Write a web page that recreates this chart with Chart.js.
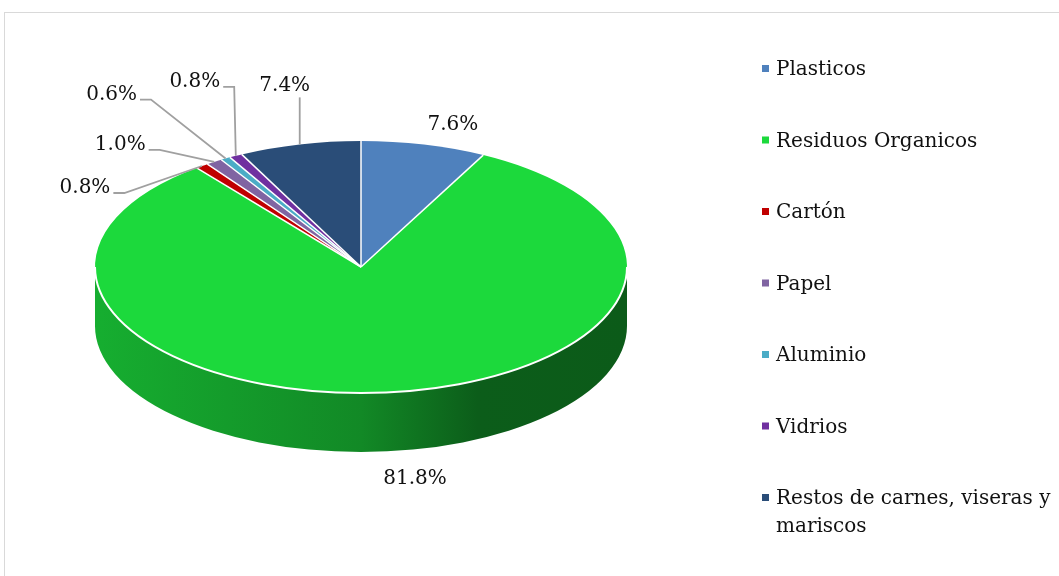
<!DOCTYPE html>
<html lang="es">
<head>
  <meta charset="UTF-8" />
  <title>Composición de residuos</title>
  <script src="https://cdn.jsdelivr.net/npm/chart.js"></script>
  <style>
    html, body { margin: 0; padding: 0; background: #fff; }
    #wrap { width: 1059px; height: 576px; }
  </style>
</head>
<body>
  <div id="wrap"><canvas id="pie" width="1059" height="576"></canvas></div>

  <script>
    // Datos
    const categories = ["Plasticos", "Residuos Organicos", "Cartón", "Papel", "Aluminio", "Vidrios", "Restos de carnes, viseras y mariscos"];
    const shares = [7.6, 81.8, 0.8, 1.0, 0.6, 0.8, 7.4];
    const sliceColors = ["#4f81bd", "#1cd93c", "#c00000", "#8064a2", "#4bacc6", "#7030a0", "#2a4d78"];

    // Geometria del pastel 3D
    const PIE = { cx: 361, cy: 267, rx: 266, ry: 126, depth: 59 };
    const FONT = "DejaVu Serif";

    // desplazamiento de cada etiqueta respecto al borde de su sector
    const labelOffsets = [[29, -20], [29, 86], [-117, 22], [-94, -17], [-114, -64], [-41, -74], [-15, -59]];
    const withLeader = [false, false, true, true, true, true, true];

    function shade(hex, f) {
      const n = parseInt(hex.slice(1), 16);
      const r = Math.round(((n >> 16) & 255) * f);
      const g = Math.round(((n >> 8) & 255) * f);
      const b = Math.round((n & 255) * f);
      return `rgb(${r},${g},${b})`;
    }

    function rimPoint(a) {
      return [PIE.cx + PIE.rx * Math.cos(a), PIE.cy + PIE.ry * Math.sin(a)];
    }

    const pie3d = {
      id: "pie3d",
      beforeDraw(chart) {
        const ctx = chart.ctx;
        ctx.save();
        ctx.strokeStyle = "#d9d9d9";
        ctx.lineWidth = 1;
        ctx.strokeRect(4.5, 12.5, 1100, 600);
        ctx.restore();
      },
      beforeDatasetsDraw(chart) {
        const ctx = chart.ctx;
        const arcs = chart.getDatasetMeta(0).data;
        // paredes laterales (solo la mitad frontal)
        arcs.forEach((arc, i) => {
          const a0 = Math.max(arc.startAngle, 0);
          const a1 = Math.min(arc.endAngle, Math.PI);
          if (a1 <= a0) return;
          const g = ctx.createLinearGradient(PIE.cx - PIE.rx, 0, PIE.cx + PIE.rx, 0);
          g.addColorStop(0, shade(sliceColors[i], 0.8));
          g.addColorStop(0.5, shade(sliceColors[i], 0.63));
          g.addColorStop(0.72, shade(sliceColors[i], 0.43));
          g.addColorStop(1, shade(sliceColors[i], 0.42));
          ctx.save();
          ctx.beginPath();
          ctx.ellipse(PIE.cx, PIE.cy, PIE.rx, PIE.ry, 0, a0, a1);
          const [ex, ey] = rimPoint(a1);
          ctx.lineTo(ex, ey + PIE.depth);
          ctx.ellipse(PIE.cx, PIE.cy + PIE.depth, PIE.rx, PIE.ry, 0, a1, a0, true);
          ctx.closePath();
          ctx.fillStyle = g;
          ctx.fill();
          ctx.restore();
        });
        // aplastar el pastel circular en una elipse
        const area = chart.chartArea;
        const ccy = (area.top + area.bottom) / 2;
        ctx.save();
        ctx.translate(PIE.cx, PIE.cy);
        ctx.scale(1, PIE.ry / PIE.rx);
        ctx.translate(-PIE.cx, -ccy);
      },
      afterDatasetsDraw(chart) {
        const ctx = chart.ctx;
        ctx.restore();
        const arcs = chart.getDatasetMeta(0).data;

        // bordes blancos
        ctx.save();
        ctx.strokeStyle = "#ffffff";
        ctx.lineWidth = 2;
        ctx.lineJoin = "round";
        ctx.beginPath();
        ctx.ellipse(PIE.cx, PIE.cy, PIE.rx, PIE.ry, 0, 0, Math.PI);
        ctx.stroke();
        ctx.lineWidth = 1.5;
        arcs.forEach(arc => {
          const [x, y] = rimPoint(arc.startAngle);
          ctx.beginPath();
          ctx.moveTo(PIE.cx, PIE.cy);
          ctx.lineTo(x, y);
          ctx.stroke();
        });
        ctx.restore();

        // etiquetas de porcentaje
        ctx.save();
        ctx.font = `20px "${FONT}"`;
        ctx.textAlign = "center";
        ctx.textBaseline = "middle";
        arcs.forEach((arc, i) => {
          const mid = (arc.startAngle + arc.endAngle) / 2;
          const [rx, ry] = rimPoint(mid);
          const tx = rx + labelOffsets[i][0];
          const ty = ry + labelOffsets[i][1];
          const text = shares[i].toFixed(1) + "%";
          if (withLeader[i]) {
            const w = ctx.measureText(text).width;
            ctx.strokeStyle = "#a0a0a0";
            ctx.lineWidth = 1.8;
            ctx.beginPath();
            if (rx < tx + w / 2 + 2) {
              ctx.moveTo(rx, ty + 12);
              ctx.lineTo(rx, ry);
            } else {
              const sx = tx + w / 2 + 3;
              ctx.moveTo(sx, ty + 5);
              ctx.lineTo(sx + 11, ty + 5);
              ctx.lineTo(rx, ry);
            }
            ctx.stroke();
          }
          ctx.fillStyle = "#111111";
          ctx.fillText(text, tx, ty);
        });
        ctx.restore();

        // leyenda
        ctx.save();
        ctx.font = `20px "${FONT}"`;
        ctx.textAlign = "left";
        ctx.textBaseline = "middle";
        const maxW = 280;
        categories.forEach((name, i) => {
          const y = 70 + i * 71.5;
          ctx.fillStyle = sliceColors[i];
          ctx.fillRect(762, y - 5, 7, 7);
          ctx.fillStyle = "#111111";
          const words = name.split(" ");
          let line = "", ly = y;
          words.forEach(wd => {
            const test = line ? line + " " + wd : wd;
            if (ctx.measureText(test).width > maxW && line) {
              ctx.fillText(line, 776, ly);
              line = wd;
              ly += 28;
            } else {
              line = test;
            }
          });
          ctx.fillText(line, 776, ly);
        });
        ctx.restore();
      }
    };

    new Chart(document.getElementById("pie"), {
      type: "pie",
      data: {
        labels: categories,
        datasets: [{
          data: shares,
          backgroundColor: sliceColors,
          borderWidth: 0,
          clip: false
        }]
      },
      options: {
        responsive: false,
        devicePixelRatio: 1,
        animation: false,
        events: [],
        layout: { padding: { left: 95, right: 432, top: 22, bottom: 22 } },
        plugins: {
          legend: { display: false },
          tooltip: { enabled: false }
        }
      },
      plugins: [pie3d]
    });
  </script>
</body>
</html>
